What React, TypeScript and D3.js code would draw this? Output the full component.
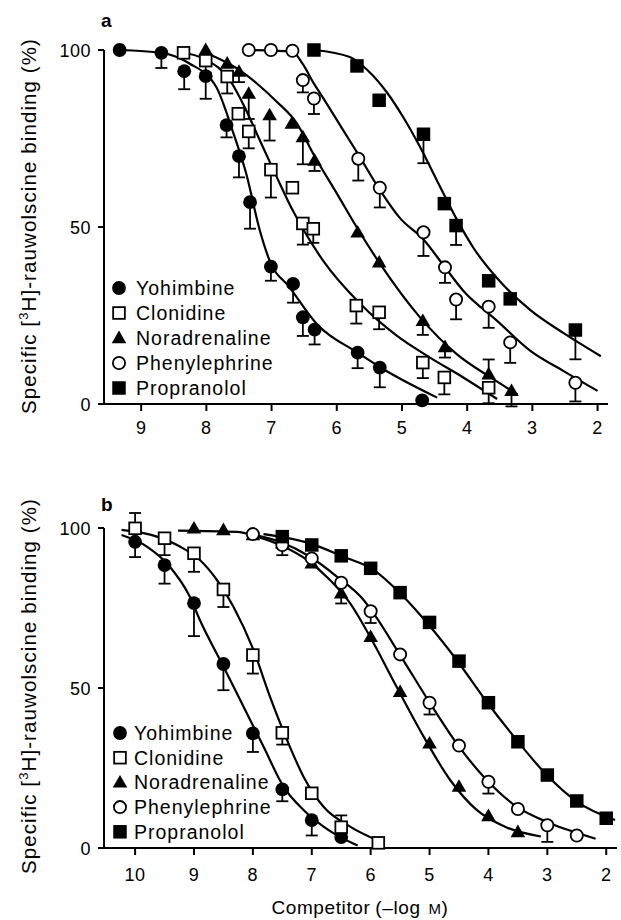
import React from "react";
import * as d3 from "d3";

// ---------- categories & ticks ----------
const DRUGS = ["Yohimbine", "Clonidine", "Noradrenaline", "Phenylephrine", "Propranolol"];
const X_TICKS_A = [9, 8, 7, 6, 5, 4, 3, 2];
const X_TICKS_B = [10, 9, 8, 7, 6, 5, 4, 3, 2];
const Y_TICKS = [0, 50, 100];

// ---------- panel a: points [-log M, % specific binding, s.e.m. (negative = bar drawn upward)] ----------
const aYohimbine = [[9.33, 100, 0], [8.69, 99.2, 2.3], [8.34, 94, 3.1], [8.01, 92.6, 4.4], [7.69, 78.8, 1.5], [7.5, 70, 4], [7.33, 57, 5.5], [7.01, 38.8, 2], [6.67, 33.9, 3.3], [6.52, 24.5, 3.3], [6.34, 21, 2.2], [5.68, 14.5, 2.4], [5.34, 10.3, 3.6], [4.69, 1, 0]];
const aClonidine = [[8.35, 99.2, 0], [8.01, 97, 1.5], [7.68, 92.5, 2.8], [7.51, 82, 0], [7.35, 77, 2.8], [7.01, 66.2, 5.9], [6.68, 61.1, 0], [6.52, 51, 4], [6.36, 49.5, 2], [5.7, 27.8, 3.1], [5.35, 25.9, 2.8], [4.68, 11.7, 2.4], [4.35, 7.5, 2.8], [3.67, 4.6, 2.4]];
const aNoradrenaline = [[8.01, 100, 0], [7.68, 96.2, 0], [7.5, 93.9, 1], [7.35, 87.7, 5.2], [7.03, 81.6, 5.2], [6.69, 79.2, 0], [6.52, 75.4, 5.7], [6.34, 68.8, 1], [5.68, 48.5, 0], [5.35, 40, 0], [4.68, 23.5, 2], [4.34, 16.1, 1], [3.67, 8.4, -2.2], [3.32, 3.7, 2.4]];
const aPhenylephrine = [[7.35, 100, 0], [7.01, 100, 0], [6.68, 99.8, 0], [6.52, 91.5, 1.5], [6.35, 86.3, 2.4], [5.67, 69.3, 4.2], [5.34, 61.1, 3.6], [4.67, 48.5, 4.7], [4.34, 38.6, 2.4], [4.17, 29.5, 3.6], [3.67, 27.5, 4], [3.34, 17.4, 3.8], [2.34, 6, 3.3]];
const aPropranolol = [[6.35, 100, 0], [5.69, 95.5, 0], [5.35, 85.8, 0], [4.67, 76.2, 6.2], [4.35, 56.6, 0], [4.17, 50.4, 3.5], [3.67, 34.8, 0], [3.34, 29.7, 0], [2.34, 20.9, 6.3]];

// ---------- panel a: fitted curves [-log M, %] ----------
const aYohimbineFit = [[9.33, 100], [8.69, 99.2], [8.26, 96.2], [7.85, 89.6], [7.6, 77.3], [7.39, 65.2], [7.18, 49], [7.03, 40.5], [6.72, 32.9], [6.31, 22.7], [5.68, 14.5], [5.29, 9.9], [4.46, 1.8]];
const aClonidineFit = [[8.44, 99.5], [8.0, 97.2], [7.64, 91.5], [7.39, 83], [7.18, 74.5], [6.92, 64.1], [6.67, 54.5], [6.52, 49.5], [6.21, 40.5], [5.64, 28.3], [5.08, 19.3], [4.57, 13.1], [4.06, 7.5], [3.54, 1.4]];
const aNoradrenalineFit = [[8.05, 99.5], [7.49, 94.3], [7.23, 90.6], [6.92, 85.4], [6.62, 79.5], [6.34, 70], [6.0, 59.5], [5.68, 49.5], [5.34, 39.7], [4.72, 24.4], [4.16, 14.1], [3.64, 7.5], [3.23, 2.7]];
const aPhenylephrineFit = [[7.41, 100], [6.68, 99.5], [6.52, 96], [6.35, 90.5], [6.21, 86.5], [5.9, 77.3], [5.67, 70.5], [5.34, 60.5], [5.03, 52.5], [4.67, 46.5], [4.34, 38.6], [4.06, 32], [3.54, 23.5], [3.03, 15], [2.52, 9.3], [2.0, 3.7]];
const aPropranololFit = [[6.35, 100], [5.8, 98], [5.54, 94.5], [5.23, 88], [4.98, 81], [4.72, 72.5], [4.46, 63], [4.17, 52.5], [3.9, 44], [3.54, 35.5], [3.03, 26.5], [2.52, 20], [1.95, 13.5]];

// ---------- panel b: points ----------
const bYohimbine = [[10, 95.7, 2.6], [9.5, 88.4, 3.6], [9, 76.5, 8.1], [8.5, 57.5, 6], [8, 35.8, 3.6], [7.5, 18.3, 1.5], [7, 8.7, 2.6], [6.5, 3.4, 0]];
const bClonidine = [[10, 99.9, -2.6], [9.5, 96.8, 3.1], [9, 92.1, 3.6], [8.5, 80.8, 3.3], [8, 60.3, 3.6], [7.5, 36, 1.5], [7, 17.1, 0], [6.5, 6.5, -1.5], [5.87, 1.6, 0]];
const bNoradrenaline = [[9, 99.9, 0], [8.5, 99.4, 0], [8, 97.8, 0], [7.5, 95.2, 0], [7, 89, 0], [6.5, 79.6, 1], [6, 66, 0], [5.5, 48.8, 0], [5, 32.7, 0], [4.5, 19.2, 0], [4, 10, 0], [3.5, 5, 0]];
const bPhenylephrine = [[8, 98.1, 0], [7.5, 94.7, 1], [7, 90.5, 0], [6.5, 82.9, 0], [6, 74, 1.5], [5.5, 60.5, 0], [5, 45.4, 1.5], [4.5, 32, 0], [4, 20.7, 1.5], [3.5, 12.2, 0], [3, 7.1, 3], [2.5, 3.9, 0]];
const bPropranolol = [[7.5, 97.3, 0], [7, 94.7, 0], [6.5, 91.3, 0], [6, 87.4, 0], [5.5, 79.8, 0], [5, 70.5, 0], [4.5, 58.4, 0], [4, 45.4, 0], [3.5, 33.2, 0], [3, 22.8, 0], [2.5, 14.7, 0], [2, 9.3, 0]];

// ---------- panel b: fitted curves ----------
const bYohimbineFit = [[10.23, 97.8], [9.8, 94.2], [9.41, 87.9], [9.07, 78.5], [8.9, 71.25], [8.5, 56.7], [8.16, 44.2], [7.82, 31.7], [7.48, 19.2], [7.14, 11.9], [6.8, 6.7], [6.62, 4.5], [6.22, 0.75]];
const bClonidineFit = [[10.23, 99.4], [9.63, 97.3], [9.24, 94.2], [8.9, 90], [8.61, 83.75], [8.33, 75.4], [7.99, 61.9], [7.71, 47.3], [7.42, 33.75], [7.14, 22.3], [6.8, 12.9], [6.35, 6.7], [5.87, 2.3]];
const bNoradrenalineFit = [[9.27, 99.2], [8.27, 98.8], [7.93, 97.3], [7.48, 94.2], [7.08, 90], [6.69, 83.75], [6.35, 76.5], [6.01, 66], [5.56, 50.4], [5.1, 34.8], [4.65, 21.25], [4.2, 11.9], [3.7, 6.5], [3.11, 3.6]];
const bPhenylephrineFit = [[8.1, 98.3], [7.54, 95.7], [7.03, 91], [6.57, 84.75], [6.12, 77.5], [5.95, 73.3], [5.5, 60.3], [4.99, 45.2], [4.54, 32.7], [4.03, 21.25], [3.52, 12.9], [2.95, 7.7], [2.18, 2.9]];
const bPropranololFit = [[7.82, 98.1], [7.03, 95.2], [6.46, 91], [5.95, 86.9], [5.5, 79.6], [4.99, 69.2], [4.54, 58.75], [4.03, 45.7], [3.52, 33.75], [3.01, 22.8], [2.5, 14.5], [1.85, 8.75]];

const FONT = "'Liberation Sans', Arial, Helvetica, sans-serif";

function Marker({ kind, x, y }: { kind: number; x: number; y: number }) {
  const sq = 13.5;
  if (kind === 0) return <circle cx={x} cy={y} r={6.9} fill="#000" />;
  if (kind === 1)
    return <rect x={x - sq / 2 + 0.9} y={y - sq / 2 + 0.9} width={sq - 1.8} height={sq - 1.8} fill="#fff" stroke="#000" strokeWidth={1.8} />;
  if (kind === 2) {
    const p = d3.symbol(d3.symbolTriangle, 92)();
    return <path d={p as string} transform={`translate(${x},${y + 1})`} fill="#000" />;
  }
  if (kind === 3) return <circle cx={x} cy={y} r={6.1} fill="#fff" stroke="#000" strokeWidth={1.8} />;
  return <rect x={x - sq / 2} y={y - sq / 2} width={sq} height={sq} fill="#000" />;
}

type PanelProps = {
  letter: string;
  letterY: number;
  xRange: [number, number];
  xDomain: [number, number];
  yRange: [number, number];
  xTicks: number[];
  points: number[][][];
  fits: number[][][];
  legendY: number;
  legendStep: number;
  legendSymX: number;
  legendTextX: number;
  tickLabelY: number;
  titleY: number;
};

function Panel(p: PanelProps) {
  const x = d3.scaleLinear().domain(p.xDomain).range(p.xRange);
  const y = d3.scaleLinear().domain([0, 100]).range(p.yRange);
  const line = d3
    .line<number[]>()
    .x((d) => x(d[0]))
    .y((d) => y(d[1]))
    .curve(d3.curveMonotoneX);
  const axY = y(0);
  const axX = p.xRange[0];
  return (
    <g>
      <text x={101} y={p.letterY} fontFamily={FONT} fontSize={19} fontWeight="bold">{p.letter}</text>
      {/* fitted curves */}
      {p.fits.map((f, i) => (
        <path key={"f" + i} d={line(f) as string} fill="none" stroke="#000" strokeWidth={2.2} />
      ))}
      {/* axes */}
      <line x1={axX} x2={axX} y1={y(100)} y2={axY} stroke="#000" strokeWidth={2} />
      <line x1={axX} x2={p.xRange[1]} y1={axY} y2={axY} stroke="#000" strokeWidth={2} />
      {Y_TICKS.map((t) => (
        <g key={"yt" + t}>
          <line x1={axX - 6} x2={axX} y1={y(t)} y2={y(t)} stroke="#000" strokeWidth={2} />
          <text x={91} y={y(t) + 6.5} textAnchor="end" fontFamily={FONT} fontSize={18} letterSpacing={0.5}>{t}</text>
        </g>
      ))}
      {p.xTicks.map((t) => (
        <g key={"xt" + t}>
          <line x1={x(t)} x2={x(t)} y1={axY} y2={axY + 7} stroke="#000" strokeWidth={2} />
          <text x={x(t)} y={p.tickLabelY} textAnchor="middle" fontFamily={FONT} fontSize={18} letterSpacing={0.5}>{t}</text>
        </g>
      ))}
      {/* error bars */}
      {p.points.map((pts, i) =>
        pts.filter((d) => d[2] !== 0).map((d, j) => {
          const y0 = y(d[1]);
          const y1 = y(d[1] - d[2]) + (d[2] > 0 ? 7 : -7);
          const cx = x(d[0]);
          return (
            <g key={"e" + i + "-" + j}>
              <line x1={cx} x2={cx} y1={y0} y2={y1} stroke="#000" strokeWidth={1.8} />
              <line x1={cx - 6} x2={cx + 6} y1={y1} y2={y1} stroke="#000" strokeWidth={1.8} />
            </g>
          );
        })
      )}
      {/* markers */}
      {p.points.map((pts, i) =>
        pts.map((d, j) => <Marker key={"m" + i + "-" + j} kind={i} x={x(d[0])} y={y(d[1])} />)
      )}
      {/* legend */}
      {DRUGS.map((name, i) => {
        const ly = p.legendY + i * p.legendStep;
        return (
          <g key={"l" + name}>
            <Marker kind={i} x={p.legendSymX} y={ly} />
            <text x={p.legendTextX} y={ly + 7} fontFamily={FONT} fontSize={19.5} letterSpacing={1}>{name}</text>
          </g>
        );
      })}
      {/* y title */}
      <text
        transform={`translate(36,${p.titleY}) rotate(-90)`}
        textAnchor="middle"
        fontFamily={FONT}
        fontSize={20.5}
        letterSpacing={1.1}
      >
        Specific [<tspan fontSize={13} dy={-8}>3</tspan><tspan dy={8}>H]-rauwolscine binding (%)</tspan>
      </text>
    </g>
  );
}

export default function App() {
  return (
    <svg width={621} height={920} style={{ position: "absolute", left: 0, top: 0, background: "#fff" }}>
      <rect width={621} height={920} fill="#fff" />
      <Panel
        letter="a"
        letterY={27}
        xRange={[104, 608]}
        xDomain={[9.57, 1.84]}
        yRange={[404, 50]}
        xTicks={X_TICKS_A}
        points={[aYohimbine, aClonidine, aNoradrenaline, aPhenylephrine, aPropranolol]}
        fits={[aYohimbineFit, aClonidineFit, aNoradrenalineFit, aPhenylephrineFit, aPropranololFit]}
        legendY={288}
        legendStep={25}
        legendSymX={119}
        legendTextX={136}
        tickLabelY={433.5}
        titleY={226}
      />
      <Panel
        letter="b"
        letterY={511}
        xRange={[104, 617]}
        xDomain={[10.528, 1.817]}
        yRange={[848, 528]}
        xTicks={X_TICKS_B}
        points={[bYohimbine, bClonidine, bNoradrenaline, bPhenylephrine, bPropranolol]}
        fits={[bYohimbineFit, bClonidineFit, bNoradrenalineFit, bPhenylephrineFit, bPropranololFit]}
        legendY={733}
        legendStep={24.7}
        legendSymX={120}
        legendTextX={134}
        tickLabelY={880.5}
        titleY={686}
      />
      <text x={360} y={914} textAnchor="middle" fontFamily={FONT} fontSize={19} letterSpacing={0.6}>
        Competitor<tspan dx={5}>(–log </tspan><tspan fontSize={15} dx={2}>M</tspan>)
      </text>
    </svg>
  );
}
